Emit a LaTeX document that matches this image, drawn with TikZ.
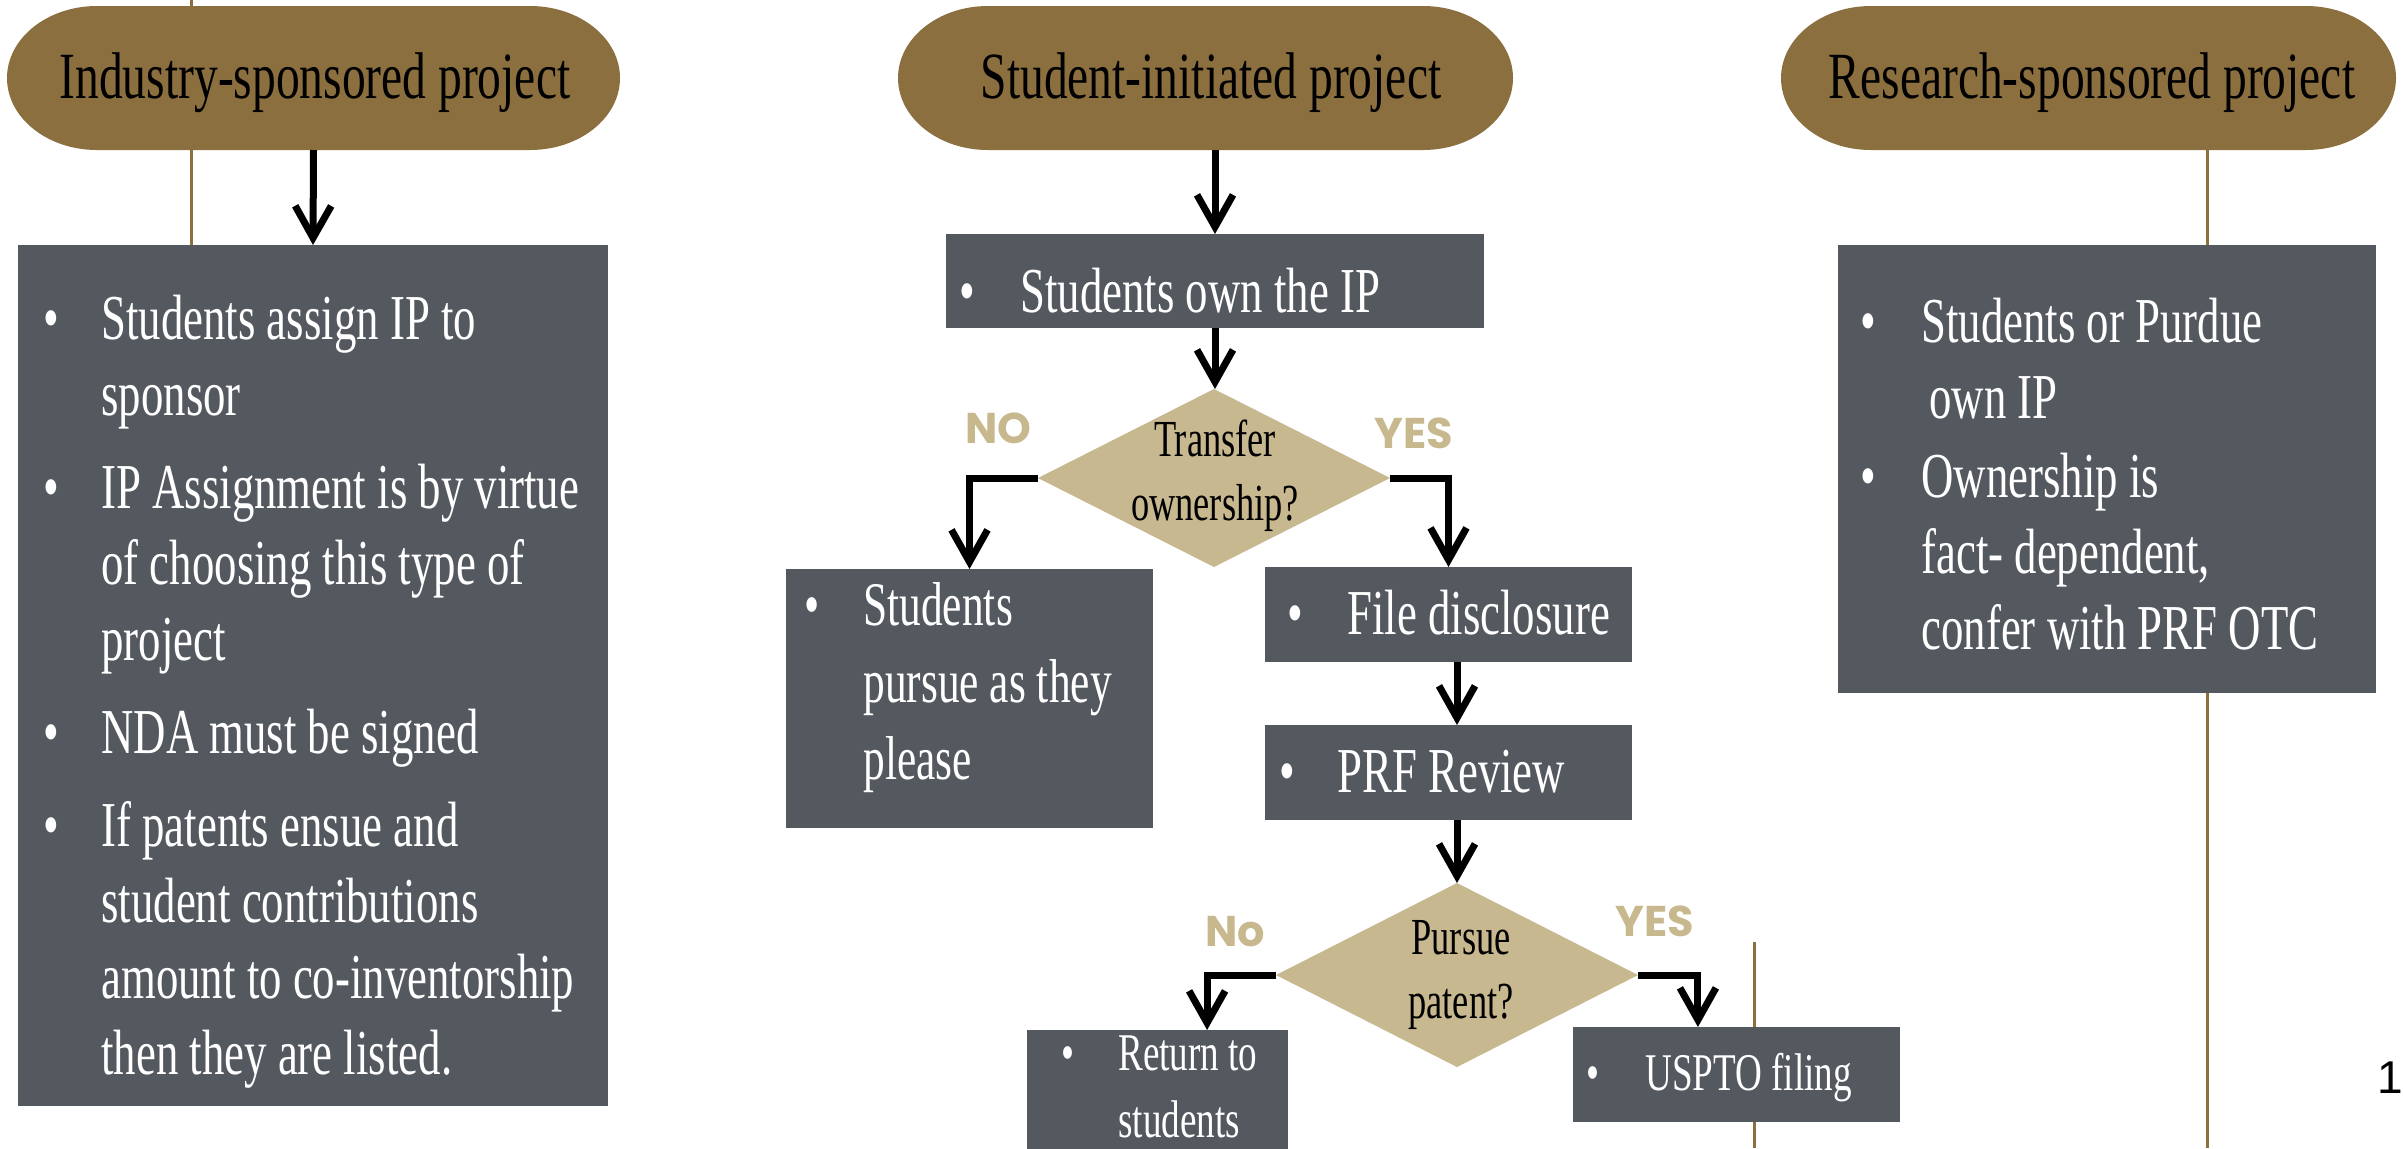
\documentclass[tikz,border=0pt]{standalone}
\usepackage{fontspec}
\setmainfont{Liberation Serif}[FakeStretch=0.70]
\newfontfamily\ttlfont{Liberation Serif}[FakeStretch=0.72]
\newfontfamily\lblfont{Poppins}
\newfontfamily\numfont{Liberation Sans}
\usetikzlibrary{arrows.meta,shapes.geometric,fit,calc}
\definecolor{pillc}{HTML}{8B6F3F}
\definecolor{boxc}{HTML}{545960}
\definecolor{diac}{HTML}{C8B890}
\definecolor{lblc}{HTML}{C8B88E}
\newcommand{\bul}[1]{\makebox[#1pt][l]{•}}
\newcommand{\pillshape}[4]{%
  \fill[pillc] ({#1+90},#2) -- ({#3-90},#2)
   .. controls ({#3-90+49.7},#2) and (#3,{(#2+#4)/2-0.5523*(#4-#2)/2}) .. (#3,{(#2+#4)/2})
   .. controls (#3,{(#2+#4)/2+0.5523*(#4-#2)/2}) and ({#3-90+49.7},#4) .. ({#3-90},#4)
   -- ({#1+90},#4)
   .. controls ({#1+90-49.7},#4) and (#1,{(#2+#4)/2+0.5523*(#4-#2)/2}) .. (#1,{(#2+#4)/2})
   .. controls (#1,{(#2+#4)/2-0.5523*(#4-#2)/2}) and ({#1+90-49.7},#2) .. ({#1+90},#2) -- cycle;}
\begin{document}
\begin{tikzpicture}[x=0.5pt,y=-0.5pt,
  area/.style={inner sep=0pt, outer sep=0pt},
  box/.style={area, fill=boxc},
  dia/.style={diamond, fill=diac, inner sep=0pt, outer sep=0pt},
  arr/.style={line width=3.5pt, line join=miter, -{Straight Barb[length=16pt,width=18pt]}},
  rulel/.style={draw=pillc, line width=1.5pt},
  ttl/.style={anchor=base, inner sep=0pt, font=\ttlfont\fontsize{33}{38}\selectfont},
  btxt/.style={anchor=base west, inner sep=0pt, text=white, font=\fontsize{32}{38}\selectfont},
  mtxt/.style={anchor=base west, inner sep=0pt, text=white, font=\fontsize{31}{38.5}\selectfont},
  stxt/.style={anchor=base west, inner sep=0pt, text=white, font=\fontsize{26.5}{33.5}\selectfont},
  dtxt/.style={anchor=base, inner sep=0pt, font=\fontsize{26}{32}\selectfont},
  lbl/.style={anchor=base west, inner sep=0pt, text=lblc, font=\lblfont\bfseries\fontsize{21.5}{26}\selectfont}
]
\useasboundingbox (0,0) rectangle (2403,1148);
\fill[white] (0,0) rectangle (2403,1148);
% decorative rules
\draw[rulel] (191,0) -- (191,245);
\draw[rulel] (1754,942) -- (1754,1148);
\draw[rulel] (2207,150) -- (2207,1148);
% pills
\pillshape{7}{6}{620}{150}
\pillshape{898}{6}{1513}{150}
\pillshape{1781}{6}{2396}{150}
\node[area, fit={(7,6) (620,150)}] (p1) {};
\node[area, fit={(898,6) (1513,150)}] (p2) {};
\node[area, fit={(1781,6) (2396,150)}] (p3) {};
\node[ttl] (tt1) at (315,98) {Industry-sponsored project};
\node[ttl] (tt2) at (1211,98) {Student-initiated project};
\node[ttl] (tt3) at (2092,98) {Research-sponsored project};
% boxes
\node[box, fit={(18,245) (608,1106)}] (b1) {};
\node[box, fit={(946,234) (1484,328)}] (b2) {};
\node[box, fit={(786,569) (1153,828)}] (b3) {};
\node[box, fit={(1265,567) (1632,662)}] (b4) {};
\node[box, fit={(1265,725) (1632,820)}] (b5) {};
\node[box, fit={(1027,1030) (1288,1170)}] (b6) {};
\node[box, fit={(1573,1027) (1900,1122)}] (b7) {};
\node[box, fit={(1838,245) (2376,693)}] (b8) {};
% diamonds
\node[dia, minimum width=176pt, minimum height=89pt] (d1) at (1214,478) {};
\node[dia, minimum width=181pt, minimum height=92pt] (d2) at (1457,975) {};
% box texts
\node[btxt] (t1) at (43,339) {\begin{tabular}[t]{@{}l@{}l@{}}
\bul{29} & Students assign IP to\\
 & sponsor\\[8.5pt]
\bul{29} & IP Assignment is by virtue\\
 & of choosing this type of\\
 & project\\[8.5pt]
\bul{29} & NDA must be signed\\[8.5pt]
\bul{29} & If patents ensue and\\
 & student contributions\\
 & amount to co-inventorship\\
 & then they are listed.
\end{tabular}};
\node[btxt] (t2) at (959,312) {\bul{30.5}Students own the IP};
\node[mtxt] (t3) at (804,625) {\begin{tabular}[t]{@{}l@{}l@{}}
\bul{29.5} & Students\\
 & pursue as they\\
 & please
\end{tabular}};
\node[btxt] (t4) at (1287,634) {\bul{30}File disclosure};
\node[btxt] (t5) at (1279,792) {\bul{29}PRF Review};
\node[stxt] (t6) at (1061,1070) {\begin{tabular}[t]{@{}l@{}l@{}}
\bul{28.5} & Return to\\
 & students
\end{tabular}};
\node[stxt] (t7) at (1586,1090) {\bul{29.5}USPTO filing};
\node[btxt] (t8) at (1860,342) {\begin{tabular}[t]{@{}l@{}l@{}}
\bul{30.5} & Students or Purdue\\
 & \hspace*{4pt}own IP\\[1.5pt]
\bul{30.5} & Ownership is\\
 & fact- dependent,\\
 & confer with PRF OTC
\end{tabular}};
% diamond texts
\node[dtxt] (dt1) at (1215,456) {\begin{tabular}[t]{@{}c@{}}Transfer\\ownership?\end{tabular}};
\node[dtxt] (dt2) at (1461,954) {\begin{tabular}[t]{@{}c@{}}Pursue\\patent?\end{tabular}};
% branch labels
\node[lbl] (l1) at (965,443) {NO};
\node[lbl] (l2) at (1374,448) {YES};
\node[lbl] (l3) at (1205,946) {No};
\node[lbl] (l4) at (1615,936) {YES};
% page number
\node[anchor=base east, inner sep=0pt, font=\numfont\fontsize{23}{28}\selectfont] (pg) at (2403,1093) {1};
% connectors
\coordinate (c6) at ($(b6.north west)!0.69!(b6.north east)$);
\coordinate (c7) at ($(b7.north west)!0.382!(b7.north east)$);
\draw[arr] (p1.south) -- (b1.north);
\draw[arr] (b2.north |- p2.south) -- (b2.north);
\draw[arr] (b2.south) -- (b2.south |- d1.north);
\draw[arr] (d1.west) -| (b3.north);
\draw[arr] (d1.east) -| (b4.north);
\draw[arr] (b4.south -| d2.north) -- (b5.north -| d2.north);
\draw[arr] (b5.south -| d2.north) -- (d2.north);
\draw[arr] (d2.west) -| (c6);
\draw[arr] (d2.east) -| (c7);
\end{tikzpicture}
\end{document}
